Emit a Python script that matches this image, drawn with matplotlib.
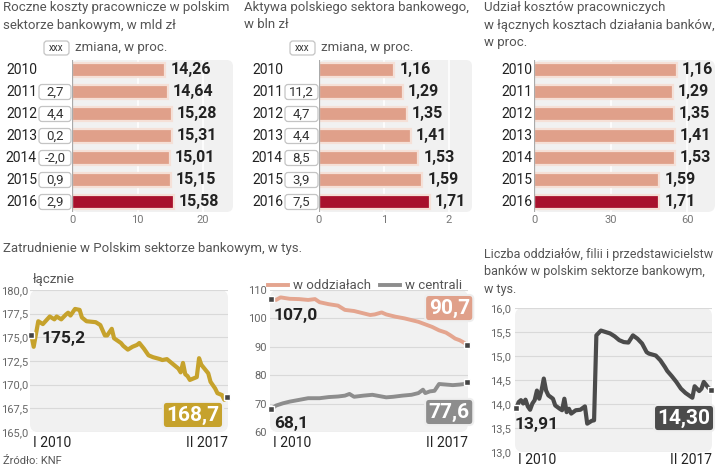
import matplotlib
matplotlib.use('Agg')
import matplotlib.pyplot as plt
from matplotlib.patches import FancyBboxPatch

plt.rcParams['font.family'] = ['Roboto', 'DejaVu Sans']

# ---- data: bar panels ----
years = ['2010', '2011', '2012', '2013', '2014', '2015', '2016']
cost = [14.26, 14.64, 15.28, 15.31, 15.01, 15.15, 15.58]
cost_chg = [None, 2.7, 4.4, 0.2, -2.0, 0.9, 2.9]
assets = [1.16, 1.29, 1.35, 1.41, 1.53, 1.59, 1.71]
assets_chg = [None, 11.2, 4.7, 4.4, 8.5, 3.9, 7.5]
share = [56.0, 54.4, 54.9, 55.3, 55.3, 49.2, 49.2]
share_labels = ['1,16', '1,29', '1,35', '1,41', '1,53', '1,59', '1,71']

# ---- data: employment (months since I 2010) ----
total_m = [0, 1, 3, 5, 8, 10, 11, 13, 15, 16, 17, 19, 21, 22, 24, 28, 30, 32, 33, 35,
           36, 39, 40, 42, 44, 46, 47, 49, 51, 53, 56, 57, 59, 61, 64, 65, 66, 67, 68, 69,
           71, 72, 73, 74, 77, 78, 80, 81, 83, 84, 85]
total_v = [175.2, 174.0, 176.7, 176.4, 177.2, 176.9, 177.2, 176.9, 177.4, 177.6,
           177.3, 178.0, 177.9, 177.1, 176.7, 176.6, 176.3, 175.2, 175.2, 175.9,
           174.9, 174.4, 174.1, 173.7, 174.0, 174.2, 174.4, 173.8, 173.1, 172.9,
           172.7, 172.6, 172.7, 172.3, 171.7, 171.3, 172.3, 171.1, 170.9, 170.5,
           170.7, 170.8, 172.8, 172.1, 171.2, 170.3, 169.6, 169.1, 168.9, 168.4, 168.7]

branch_m = [0, 2, 4, 8, 12, 16, 19, 21, 25, 29, 32, 36, 40, 43, 45, 48, 50, 54, 58, 61,
            64, 67, 70, 73, 76, 78, 80, 82, 84, 85]
branch_v = [107.0, 106.5, 107.4, 106.9, 106.8, 106.5, 106.8, 105.7, 105.0, 104.5,
            103.0, 102.6, 101.8, 101.2, 101.4, 102.1, 101.4, 100.6, 100.0, 99.4,
            98.8, 97.9, 97.0, 95.8, 95.0, 94.0, 92.9, 92.3, 91.4, 90.7]
central_m = [0, 2, 5, 8, 12, 16, 21, 25, 29, 32, 34, 36, 40, 44, 46, 50, 53, 57, 61, 64,
             66, 67, 69, 71, 73, 76, 79, 82, 84, 85]
central_v = [68.1, 69.3, 70.1, 70.7, 71.3, 71.9, 71.9, 72.3, 72.5, 72.8,
             73.4, 72.4, 72.8, 73.1, 72.8, 72.2, 72.4, 72.8, 73.1, 73.7,
             74.9, 73.7, 74.3, 74.5, 76.9, 76.7, 76.5, 76.7, 76.9, 77.6]

# ---- data: number of branches ----
units_m = [0, 1, 2, 3, 4, 5, 6, 7, 8, 9, 10, 11, 12, 13, 14, 16, 17, 19, 20, 21,
           22, 23, 24, 26, 28, 30, 31, 33, 34, 35, 37, 39, 41, 43, 45, 47, 49, 51, 53, 55,
           57, 58, 61, 63, 65, 66, 68, 70, 72, 74, 77, 78, 80, 81, 82, 84, 85]
units_v = [13.91, 14.04, 14.08, 14.01, 14.09, 13.95, 13.88, 14.01, 14.08, 14.28,
           14.11, 14.28, 14.53, 14.28, 14.18, 14.11, 13.97, 13.90, 13.87, 14.11,
           13.83, 13.90, 13.80, 13.87, 13.88, 13.95, 13.59, 13.65, 13.66, 15.43,
           15.53, 15.50, 15.47, 15.41, 15.33, 15.29, 15.28, 15.43, 15.36, 15.26,
           15.08, 15.05, 15.01, 14.91, 14.77, 14.69, 14.58, 14.46, 14.32, 14.23,
           14.13, 14.37, 14.27, 14.32, 14.46, 14.34, 14.30]

SALMON = '#e0a08a'
SALMON_EDGE = '#f5e0d7'
DARKRED = '#a8112c'
GOLD = '#c6a22c'
LINE_SALMON = '#e4a58f'
LINE_GRAY = '#8d8d8d'
LINE_DARK = '#4b4b4b'
BG = '#f1f1f1'
TXT = '#222222'
GREY_TXT = '#555555'

W, H = 720, 469
fig = plt.figure(figsize=(7.2, 4.69), dpi=100)
fig.patch.set_facecolor('white')

ov = fig.add_axes([0, 0, 1, 1], zorder=10)
ov.set_xlim(0, W)
ov.set_ylim(H, 0)
ov.axis('off')


def add_ax(x0, y0, x1, y1):
    return fig.add_axes([x0 / W, 1 - y1 / H, (x1 - x0) / W, (y1 - y0) / H])


def comma(v, nd=1):
    return f'{v:.{nd}f}'.replace('.', ',')


def rounded_bg(ax, x0, y0, x1, y1):
    ax.patch.set_visible(False)
    ax.add_patch(FancyBboxPatch((0, 0), 1, 1, boxstyle='round,pad=0,rounding_size=0.04',
                                mutation_aspect=(x1 - x0) / (y1 - y0),
                                transform=ax.transAxes, fc=BG, ec='none',
                                zorder=0, clip_on=False))


def title(x, y, s, size=9.5):
    ov.text(x, y, s, ha='left', va='top', fontsize=size, fontweight='normal',
            color='#555555', linespacing=1.45)


def bar_panel(x0, x1, scale, vals, labels, ticks, year_dx, chg=None, box=None):
    y0, y1 = 60, 212
    ax = add_ax(x0, y0, x1, y1)
    rounded_bg(ax, x0, y0, x1, y1)
    n = len(vals)
    ax.set_xlim(0, (x1 - x0) / scale)
    ax.set_ylim(n - 0.5454, -0.4545)
    colors = [SALMON] * (n - 1) + [DARKRED]
    ax.barh(range(n), vals, height=0.64, color=colors, edgecolor=SALMON_EDGE,
            linewidth=1.6, zorder=2)
    ax.set_xticks(ticks)
    ax.set_xticklabels([str(t) for t in ticks])
    ax.set_yticks([])
    ax.grid(axis='x', color='white', lw=1.2)
    ax.set_axisbelow(True)
    ax.tick_params(axis='x', length=0, labelsize=8, colors='#777777', pad=2)
    for s in ax.spines.values():
        s.set_visible(False)
    ax.axvline(0, color='#aaaaaa', lw=0.9, zorder=3)
    for i, (v, lab) in enumerate(zip(vals, labels)):
        ax.annotate(lab, (v, i), xytext=(3.5, 0), textcoords='offset points',
                    ha='left', va='center', fontsize=11.5, fontweight='bold',
                    color=TXT, annotation_clip=False)
        ax.annotate(years[i], (0, i), xycoords=('axes fraction', 'data'),
                    xytext=(-year_dx * 0.72, 0), textcoords='offset points',
                    ha='right', va='center', fontsize=10, color=TXT,
                    annotation_clip=False)
    if chg is not None:
        bx0, bx1 = box
        for i, c in enumerate(chg):
            if c is None:
                continue
            yc = H - ax.transData.transform((0, i))[1]
            ov.add_patch(FancyBboxPatch((bx0, yc - 7.5), bx1 - bx0, 15,
                                        boxstyle='round,pad=0,rounding_size=3',
                                        fc='white', ec='#c4c4c4', lw=0.9))
            ov.text((bx0 + bx1) / 2, yc, comma(c), ha='center', va='center',
                    fontsize=9.5, color='#333333')
        # legend box
        ov.add_patch(FancyBboxPatch((bx0 + 5, 41), 25, 14,
                                    boxstyle='round,pad=0,rounding_size=3',
                                    fc='white', ec='#c4c4c4', lw=0.9))
        ov.text(bx0 + 17.5, 48, 'xxx', ha='center', va='center', fontsize=7,
                color='#333333')
        ov.text(bx0 + 36, 48, 'zmiana, w proc.', ha='left', va='center',
                fontsize=9.5, fontweight='normal', color='#555555')
    return ax


title(3, 1, 'Roczne koszty pracownicze w polskim\nsektorze bankowym, w mld zł')
title(244, 1, 'Aktywa polskiego sektora bankowego,\nw bln zł')
title(484, 1, 'Udział kosztów pracowniczych\nw łącznych kosztach działania banków,\nw proc.')

bar_panel(72, 233, 6.55, cost, [comma(v, 2) for v in cost], [0, 10, 20], 35,
          cost_chg, (39, 71))
bar_panel(319, 472, 65.0, assets, [comma(v, 2) for v in assets], [0, 1, 2], 36,
          assets_chg, (285, 318))
bar_panel(534, 715, 2.55, share, share_labels, [0, 30, 60], 2)


def line_panel(x0, y0, x1, y1, ylim, ticks, nd, pad):
    ax = add_ax(x0, y0, x1, y1)
    rounded_bg(ax, x0, y0, x1, y1)
    ax.set_xlim(-0.6, 85.6)
    ax.set_ylim(*ylim)
    ax.set_yticks(ticks)
    ax.set_yticklabels([comma(t, nd) for t in ticks])
    ax.set_xticks([])
    ax.tick_params(axis='y', length=0, labelsize=8, colors='#666666', pad=pad)
    ax.grid(axis='y', color='#d9d9d9', lw=0.8)
    ax.set_axisbelow(True)
    for s in ax.spines.values():
        s.set_visible(False)
    return ax


def period_labels(ax, dy):
    ax.annotate('I 2010', (0, 0), xycoords='axes fraction', xytext=(2, -dy * 0.72),
                textcoords='offset points', ha='left', va='center', fontsize=10,
                color=TXT, annotation_clip=False)
    ax.annotate('II 2017', (1, 0), xycoords='axes fraction', xytext=(0, -dy * 0.72),
                textcoords='offset points', ha='right', va='center', fontsize=10,
                color=TXT, annotation_clip=False)


def end_marker(ax, x, y):
    ax.plot([x], [y], 's', ms=3.8, mfc='#444444', mec='white', mew=1.0,
            zorder=6, clip_on=False)


def box_label(ax, x, y, s, fc):
    ax.text(x, y, s, transform=ax.transAxes, ha='center', va='center',
            fontsize=15, fontweight='bold', color='white', zorder=7,
            bbox=dict(boxstyle='round,pad=0.17,rounding_size=0.2', fc=fc,
                      ec='#eeeeee', lw=1.5))


# employment total
title(3, 242, 'Zatrudnienie w Polskim sektorze bankowym, w tys.')
ax4 = line_panel(30, 290, 228, 432, (165, 180), [165, 167.5, 170, 172.5, 175, 177.5, 180], 1, 1.5)
ax4.plot(total_m, total_v, color=GOLD, lw=3.0, solid_joinstyle='round', zorder=4,
         clip_on=False)
end_marker(ax4, total_m[0], total_v[0])
end_marker(ax4, total_m[-1], total_v[-1])
ax4.annotate(comma(total_v[0]), (total_m[0], total_v[0]), xytext=(7.5, -2),
             textcoords='offset points', ha='left', va='center', fontsize=12.5,
             fontweight='bold', color=TXT)
box_label(ax4, 0.823, 0.12, comma(total_v[-1]), GOLD)
ov.text(33, 280, 'łącznie', ha='left', va='center', fontsize=9.5,
        fontweight='normal', color='#555555')
period_labels(ax4, 11)

# employment split
ax5 = line_panel(270, 290, 468, 432, (60, 110), [60, 70, 80, 90, 100, 110], 0, 2)
ax5.plot(branch_m, branch_v, color=LINE_SALMON, lw=2.8, zorder=4, clip_on=False,
         label='w oddziałach')
ax5.plot(central_m, central_v, color=LINE_GRAY, lw=2.8, zorder=4, clip_on=False,
         label='w centrali')
for mm, vv in [(branch_m, branch_v), (central_m, central_v)]:
    end_marker(ax5, mm[0], vv[0])
    end_marker(ax5, mm[-1], vv[-1])
ax5.annotate(comma(branch_v[0]), (branch_m[0], branch_v[0]), xytext=(1.5, -12),
             textcoords='offset points', ha='left', va='center', fontsize=12.5,
             fontweight='bold', color=TXT)
ax5.annotate(comma(central_v[0]), (central_m[0], central_v[0]), xytext=(2, -10.5),
             textcoords='offset points', ha='left', va='center', fontsize=12.5,
             fontweight='bold', color=TXT)
box_label(ax5, 0.905, 0.873, comma(branch_v[-1]), SALMON)
box_label(ax5, 0.905, 0.141, comma(central_v[-1]), LINE_GRAY)
leg = ax5.legend(loc='lower left', bbox_to_anchor=(-0.01, 0.985), ncol=2, frameon=False,
                 handlelength=1.5, columnspacing=0.7, handletextpad=0.4,
                 borderaxespad=0, borderpad=0, fontsize=9.5)
for t in leg.get_texts():
    t.set_color('#555555')
period_labels(ax5, 11)

# number of units
title(484, 248, 'Liczba oddziałów, filii i przedstawicielstw\nbanków w polskim sektorze bankowym,\nw tys.',
      size=9)
ax6 = line_panel(515, 308, 712, 452, (13, 16), [13, 13.5, 14, 14.5, 15, 15.5, 16], 1, 3)
ax6.plot(units_m, units_v, color=LINE_DARK, lw=3.0, zorder=4, clip_on=False)
end_marker(ax6, units_m[0], units_v[0])
end_marker(ax6, units_m[-1], units_v[-1])
ax6.annotate(comma(units_v[0], 2), (units_m[0], units_v[0]), xytext=(-1.5, -12),
             textcoords='offset points', ha='left', va='center', fontsize=12.5,
             fontweight='bold', color=TXT)
box_label(ax6, 0.858, 0.236, comma(units_v[-1], 2), LINE_DARK)
period_labels(ax6, 8)

ov.text(3, 461, 'Źródło: KNF', ha='left', va='center', fontsize=8,
        fontweight='normal', color=GREY_TXT)

fig.savefig('out.png', dpi=100, facecolor='white')
